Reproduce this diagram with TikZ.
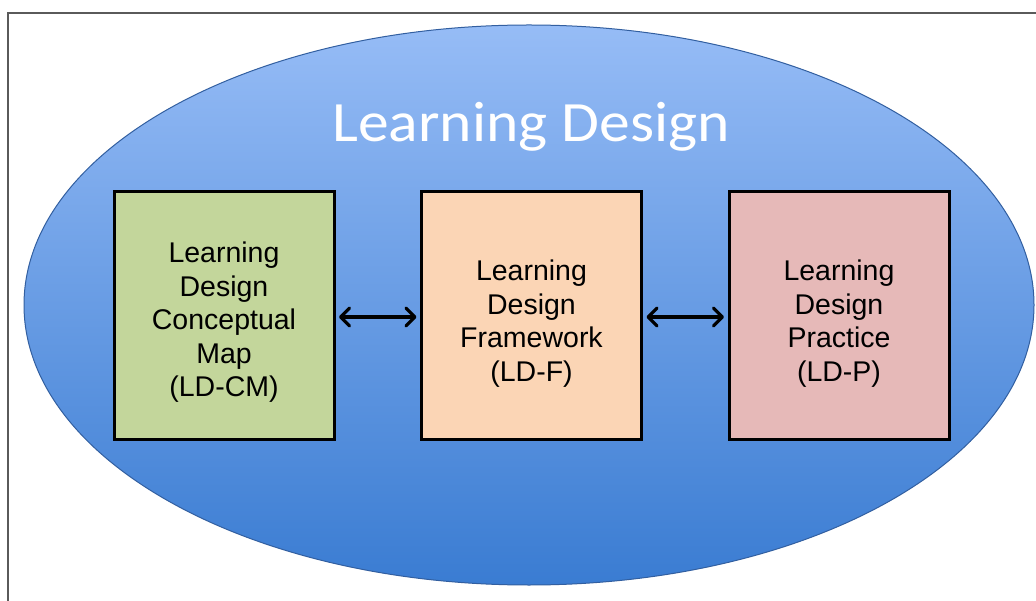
\documentclass[tikz,border=0pt]{standalone}
\usepackage{fontspec}
\setmainfont{Liberation Sans}
\newfontfamily\titlefont{Carlito}
\usetikzlibrary{arrows.meta,shapes.geometric}
\definecolor{framegray}{RGB}{90,90,90}
\definecolor{elltop}{RGB}{150,188,246}
\definecolor{ellbot}{RGB}{58,124,210}
\definecolor{ellline}{RGB}{50,95,160}
\definecolor{boxgreen}{RGB}{195,214,155}
\definecolor{boxorange}{RGB}{251,213,181}
\definecolor{boxpink}{RGB}{230,185,184}
\tikzset{
  ldbox/.style={draw=black, line width=3pt, minimum width=220pt, minimum height=247pt, inner sep=0pt},
  ldtext/.style={font=\fontsize{28.5}{33.5}\selectfont, align=center, text=black, inner sep=0pt},
  biarrow/.style={draw=black, line width=3.2pt, line cap=round,
    {Straight Barb[length=9pt,width=18pt,line cap=round,line join=round]}-{Straight Barb[length=9pt,width=18pt,line cap=round,line join=round]},
    shorten <=2pt, shorten >=2pt},
}
\begin{document}
\begin{tikzpicture}[x=1pt,y=-1pt]
\useasboundingbox (0,0) rectangle (1036,601);
\fill[white] (0,0) rectangle (1036,601);
% frame
\coordinate (fbl) at (8,601);
\coordinate (ftl) at (8,13);
\coordinate (ftr) at (1036,13);
\draw[framegray, line width=1.6pt] (fbl) -- (ftl) -- (ftr);
% ellipse
\node[ellipse, minimum width=1010pt, minimum height=560pt, inner sep=0pt,
  draw=ellline, line width=1pt, top color=elltop, bottom color=ellbot] (ell) at (529,305) {};
\node[text=white, font=\titlefont\fontsize{57}{64}\selectfont, anchor=base] (title) at (531,142) {\scalebox{1.08}[1]{Learning Design}};
% boxes
\node[ldbox, fill=boxgreen] (cm) at (224,315.5) {};
\node[ldbox, fill=boxorange] (f) at (531.5,315.5) {};
\node[ldbox, fill=boxpink] (p) at (839,315.5) {};
\node[ldtext, yshift=-7pt] (cmt) at (cm.center) {Learning\\Design\\Conceptual\\Map\\(LD-CM)};
\node[ldtext, yshift=-8pt] (ft) at (f.center) {Learning\\Design\\Framework\\(LD-F)};
\node[ldtext, yshift=-8pt] (pt) at (p.center) {Learning\\Design\\Practice\\(LD-P)};
\coordinate (a1s) at ([xshift=1.5pt]cm.east |- 0,317);
\coordinate (a1e) at ([xshift=-1.5pt]f.west |- 0,317);
\coordinate (a2s) at ([xshift=1.5pt]f.east |- 0,317);
\coordinate (a2e) at ([xshift=-1.5pt]p.west |- 0,317);
\draw[biarrow] (a1s) -- (a1e);
\draw[biarrow] (a2s) -- (a2e);
\end{tikzpicture}
\end{document}
